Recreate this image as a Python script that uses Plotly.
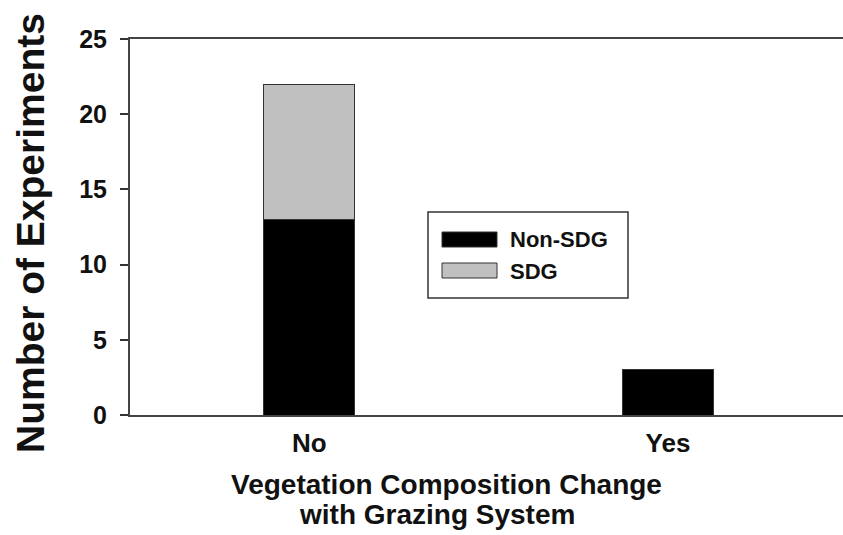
import plotly.graph_objects as go

# data
categories = ["No", "Yes"]
series_names = ["Non-SDG", "SDG"]
non_sdg = [13, 3]
sdg = [9, 0]
series_colors = ["#000000", "#c0c0c0"]

y_ticks = [0, 5, 10, 15, 20, 25]

FONT = "Liberation Sans, Arial, sans-serif"
W, H = 843, 535
L, R, T, B = 130, 843, 39, 415  # plot area in pixels


def px_x(x):
    return (x - L) / (R - L)


def px_y(y):
    return (B - y) / (B - T)


fig = go.Figure()
for name, vals, col in zip(series_names, [non_sdg, sdg], series_colors):
    fig.add_trace(go.Bar(x=list(range(len(categories))), y=vals, name=name,
                         marker={'color': col, 'line': {'color': '#333333', 'width': 1}},
                         width=0.254, showlegend=False))

############ legend box drawn by hand (wide swatches like the original) ############
shapes = [dict(type='rect', xref='paper', yref='paper',
               x0=px_x(428), x1=px_x(628), y0=px_y(298), y1=px_y(212),
               line={'color': '#333333', 'width': 1.5}, fillcolor='white', layer='above')]
annotations = []
sw_top = [232, 263]
for i, name in enumerate(series_names):
    shapes.append(dict(type='rect', xref='paper', yref='paper',
                       x0=px_x(442), x1=px_x(497), y0=px_y(sw_top[i] + 15), y1=px_y(sw_top[i]),
                       line={'color': '#333333', 'width': 1}, fillcolor=series_colors[i], layer='above'))
    annotations.append(dict(xref='paper', yref='paper', x=px_x(508), y=px_y(sw_top[i] + 8),
                            xanchor='left', yanchor='middle', showarrow=False, text='<b>%s</b>' % name,
                            font={'family': FONT, 'size': 22, 'color': '#111111'}))

############ axis titles ############
x_title = ["Vegetation Composition Change", "with Grazing System"]
for line, xc, yc in zip(x_title, [446, 437], [484, 514]):
    annotations.append(dict(xref='paper', yref='paper', x=px_x(xc), y=px_y(yc),
                            xanchor='center', yanchor='middle', showarrow=False,
                            text='<b>%s</b>' % line,
                            font={'family': FONT, 'size': 28, 'color': '#111111'}))
annotations.append(dict(xref='paper', yref='paper', x=px_x(30), y=px_y(233),
                        xanchor='center', yanchor='middle', showarrow=False, textangle=-90,
                        text='<b>Number of Experiments</b>',
                        font={'family': FONT, 'size': 39, 'color': '#111111'}))

fig.update_layout(width=W, height=H, barmode='stack', showlegend=False,
                  plot_bgcolor='white', paper_bgcolor='white',
                  margin={'l': L, 'r': W - R, 't': T, 'b': H - B},
                  shapes=shapes, annotations=annotations,
                  xaxis={'range': [-0.5, 1.488], 'tickvals': list(range(len(categories))),
                         'ticktext': ['<b>%s</b>' % c for c in categories],
                         'showgrid': False, 'zeroline': False, 'showline': True, 'mirror': True,
                         'linecolor': '#444444', 'linewidth': 2, 'ticks': '',
                         'ticklabelstandoff': 4,
                         'tickfont': {'family': FONT, 'size': 26, 'color': '#111111'}},
                  yaxis={'range': [0, 25], 'tickvals': y_ticks,
                         'ticktext': ['<b>%d</b>' % v for v in y_ticks],
                         'showgrid': False, 'zeroline': False, 'showline': True,
                         'linecolor': '#444444', 'linewidth': 2, 'ticks': 'outside',
                         'ticklen': 8, 'tickwidth': 2, 'tickcolor': '#333333',
                         'ticklabelstandoff': 8,
                         'tickfont': {'family': FONT, 'size': 25, 'color': '#111111'}})

# page has a default 8px body margin; drop it so the figure sits at the corner
fig.write_html("out.html", config={'displayModeBar': False},
               post_script="document.body.style.margin='0';document.body.style.overflow='hidden';")
